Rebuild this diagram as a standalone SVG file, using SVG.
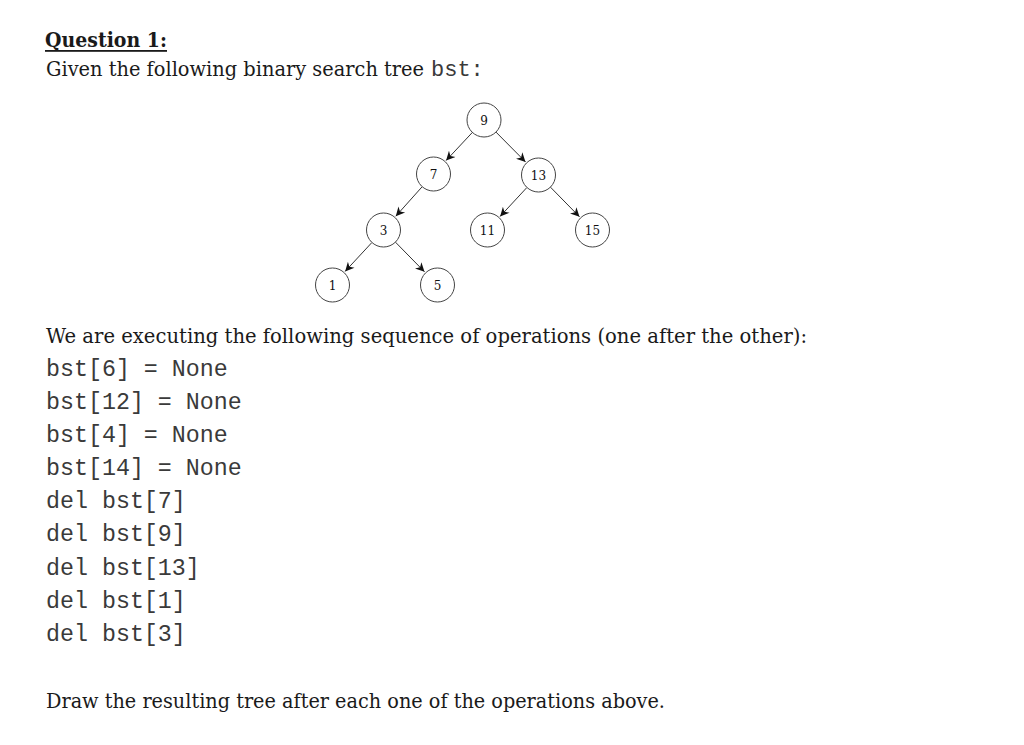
<svg xmlns="http://www.w3.org/2000/svg" width="1024" height="745" viewBox="0 0 1024 745">
<style>
.ser{font-family:"DejaVu Serif","Liberation Serif",serif;font-size:21px;fill:#1a1a1a}
.bold{font-weight:bold}
.mono{font-family:"Liberation Mono","Courier New",monospace;font-size:23.3px;fill:#3a3a3a}
.node circle{fill:#fff;stroke:#444;stroke-width:1}
.node text{font-family:"DejaVu Serif","Liberation Serif",serif;font-size:12px;fill:#111;text-anchor:middle}
.edge{stroke:#333;stroke-width:1;fill:none;marker-end:url(#arr)}
</style>
<defs>
<marker id="arr" viewBox="0 0 10 10" markerWidth="11" markerHeight="9" refX="10" refY="5" orient="auto" markerUnits="userSpaceOnUse">
<path d="M0,0 L10,5 L0,10 L3,5 z" fill="#111"/>
</marker>
</defs>
<rect width="1024" height="745" fill="#fff"/>
<g id="heading">
<text class="ser bold" x="45" y="47" textLength="122" lengthAdjust="spacingAndGlyphs">Question 1:</text>
<rect x="45" y="50" width="122" height="1.8" fill="#1a1a1a"/>
<text class="ser" x="46" y="76" style="font-size:19.6px" textLength="378" lengthAdjust="spacingAndGlyphs">Given the following binary search tree</text>
<text class="mono" x="431" y="76" style="font-size:22px">bst:</text>
</g>
<g id="connectors">
<line class="edge" x1="472.4" y1="132.4" x2="446.1" y2="160.5"/>
<line class="edge" x1="496" y1="132.1" x2="525.5" y2="161.9"/>
<line class="edge" x1="422.2" y1="186.7" x2="395.8" y2="216.2"/>
<line class="edge" x1="526.9" y1="187.5" x2="500.1" y2="216.4"/>
<line class="edge" x1="550.4" y1="187.1" x2="579.5" y2="216.8"/>
<line class="edge" x1="371.9" y1="242.5" x2="345.1" y2="271.4"/>
<line class="edge" x1="395.4" y1="242.1" x2="424.5" y2="271.8"/>
</g>
<g id="n9" class="node"><circle cx="484" cy="120" r="17"/><text x="484" y="124.5">9</text></g>
<g id="n7" class="node"><circle cx="433.5" cy="174" r="17"/><text x="433.5" y="178.5">7</text></g>
<g id="n13" class="node"><circle cx="538.5" cy="175" r="17"/><text x="538.5" y="179.5">13</text></g>
<g id="n3" class="node"><circle cx="383.5" cy="230" r="17"/><text x="383.5" y="234.5">3</text></g>
<g id="n11" class="node"><circle cx="487.5" cy="230" r="17"/><text x="487.5" y="234.5">11</text></g>
<g id="n15" class="node"><circle cx="592.5" cy="230" r="17"/><text x="592.5" y="234.5">15</text></g>
<g id="n1" class="node"><circle cx="332.5" cy="285" r="17"/><text x="332.5" y="289.5">1</text></g>
<g id="n5" class="node"><circle cx="437.5" cy="285" r="17"/><text x="437.5" y="289.5">5</text></g>
<g id="body">
<text class="ser" x="46" y="343" textLength="761" lengthAdjust="spacingAndGlyphs">We are executing the following sequence of operations (one after the other):</text>
<text class="mono" x="46" y="376" xml:space="preserve">bst[6] = None</text>
<text class="mono" x="46" y="409" xml:space="preserve">bst[12] = None</text>
<text class="mono" x="46" y="442" xml:space="preserve">bst[4] = None</text>
<text class="mono" x="46" y="475" xml:space="preserve">bst[14] = None</text>
<text class="mono" x="46" y="508">del bst[7]</text>
<text class="mono" x="46" y="541">del bst[9]</text>
<text class="mono" x="46" y="574.5">del bst[13]</text>
<text class="mono" x="46" y="607.5">del bst[1]</text>
<text class="mono" x="46" y="641">del bst[3]</text>
<text class="ser" x="46" y="708" textLength="619" lengthAdjust="spacingAndGlyphs">Draw the resulting tree after each one of the operations above.</text>
</g>
</svg>
